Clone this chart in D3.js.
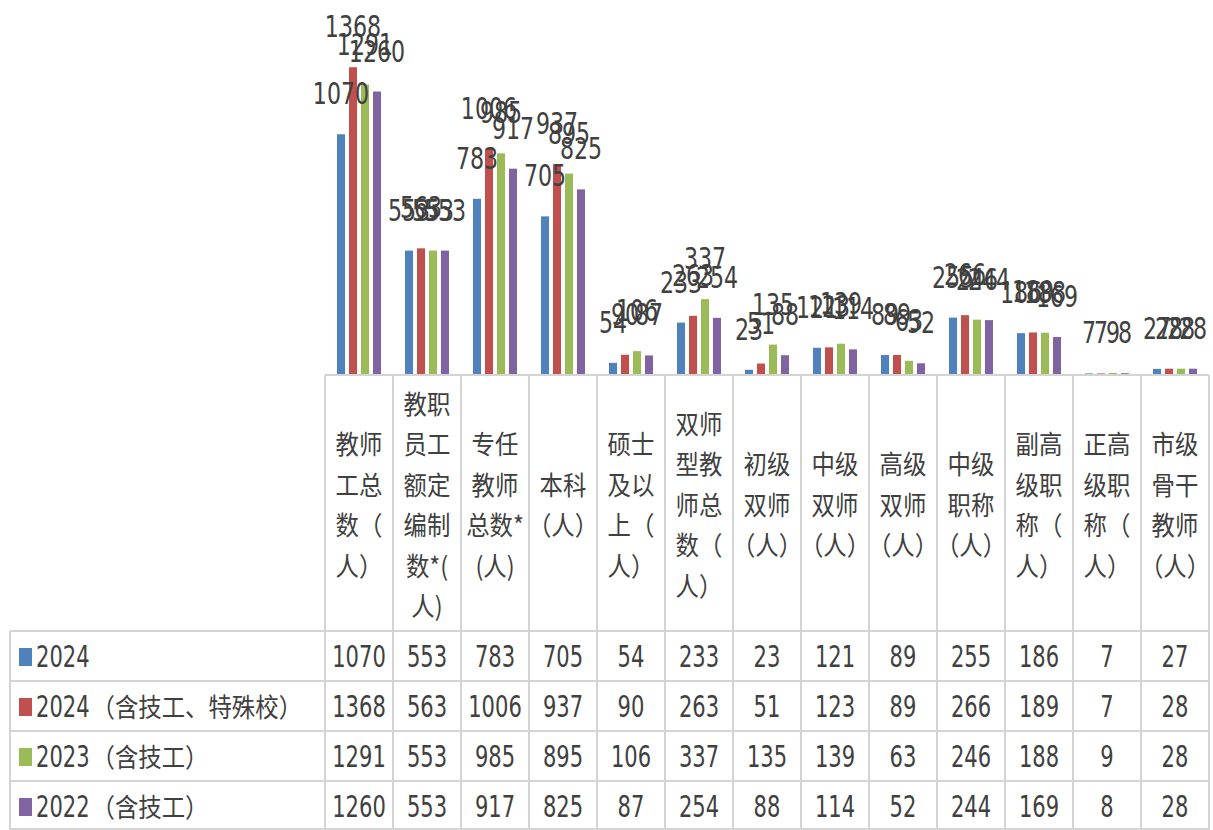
<!DOCTYPE html>
<html>
<head>
<meta charset="utf-8">
<script src="https://cdn.jsdelivr.net/npm/d3@7/dist/d3.min.js"></script>
<style>
  body { margin: 0; background: #fff; }
  svg { display: block; }
</style>
</head>
<body>
<script>
const categories = ['教师工总数（人）', '教职员工额定编制数*(人)', '专任教师总数*(人)', '本科（人）',
  '硕士及以上（人）', '双师型教师总数（人）', '初级双师（人）', '中级双师（人）', '高级双师（人）',
  '中级职称（人）', '副高级职称（人）', '正高级职称（人）', '市级骨干教师（人）']
const seriesNames = ['2024', '2024（含技工、特殊校）', '2023（含技工）', '2022（含技工）']
const v2024 = [1070, 553, 783, 705, 54, 233, 23, 121, 89, 255, 186, 7, 27]
const v2024b = [1368, 563, 1006, 937, 90, 263, 51, 123, 89, 266, 189, 7, 28]
const v2023 = [1291, 553, 985, 895, 106, 337, 135, 139, 63, 246, 188, 9, 28]
const v2022 = [1260, 553, 917, 825, 87, 254, 88, 114, 52, 244, 169, 8, 28]
const colors = ['#4f81bd', '#c0504d', '#9bbb59', '#8064a2']

const allValues = [v2024, v2024b, v2023, v2022]
const width = 1213
const height = 830
const textColor = '#404040'
const gridColor = '#d4d4d4'
const numFont = "'Liberation Sans Narrow', 'DejaVu Sans Condensed', sans-serif"
const cjkFont = "'Noto Sans CJK SC', sans-serif"
const sx = 0.9   // cjk text squeezed sideways like the reference
const nsx = 0.78 // digits are narrower still

const svg = d3.select('body').append('svg')
  .attr('width', width)
  .attr('height', height)

svg.append('rect').attr('width', width).attr('height', height).attr('fill', '#fff')

const x0 = d3.scaleBand().domain(categories).range([325, 1209]).padding(0)
const x1 = d3.scaleBand().domain(seriesNames).range([12, 56]).paddingInner(0.33)
const y = d3.scaleLinear().domain([0, 1400]).range([375, 60])
const headTop = 375, headBottom = 631
const rowY = d3.scaleBand().domain(seriesNames).range([headBottom, 831])

// bars
const groups = svg.append('g').selectAll('g')
  .data(categories)
  .join('g')
  .attr('transform', d => `translate(${x0(d)},0)`)

const barData = (c, i) => seriesNames.map((s, k) => ({ s, k, v: allValues[k][i] }))

groups.selectAll('rect')
  .data(barData)
  .join('rect')
  .attr('x', d => x1(d.s))
  .attr('width', x1.bandwidth())
  .attr('y', d => y(d.v))
  .attr('height', d => y(0) - y(d.v))
  .attr('fill', d => colors[d.k])

// data labels (they overlap in the original too)
groups.selectAll('text')
  .data(barData)
  .join('text')
  .attr('transform', d => `translate(${x1(d.s) + x1.bandwidth() / 2},${y(d.v) - 30}) scale(0.82,1)`)
  .attr('text-anchor', 'middle')
  .attr('font-family', numFont)
  .attr('font-size', 30)
  .attr('fill', textColor)
  .text(d => d.v)

// table grid
const grid = svg.append('g').attr('stroke', gridColor).attr('stroke-width', 2).attr('fill', 'none')
grid.append('line').attr('x1', 325).attr('x2', 1209).attr('y1', headTop).attr('y2', headTop)
const colEdges = categories.map(c => x0(c)).concat([x0.range()[1]])
colEdges.forEach(xv => {
  grid.append('line').attr('x1', xv).attr('x2', xv).attr('y1', headTop).attr('y2', 831)
})
grid.append('line').attr('x1', 10).attr('x2', 10).attr('y1', headBottom).attr('y2', 831)
seriesNames.forEach(s => {
  grid.append('line').attr('x1', 10).attr('x2', 1209).attr('y1', rowY(s)).attr('y2', rowY(s))
})
grid.append('line').attr('x1', 10).attr('x2', 1209).attr('y1', 829).attr('y2', 829)

// wrap header text roughly like the spreadsheet did
function charW(ch) {
  if (/[\x00-\x7f]/.test(ch)) return 0.5
  if (ch === '（' || ch === '）') return 0.75
  return 1
}
function wrap(str) {
  const lines = []
  let cur = '', w = 0
  for (const ch of str) {
    const cw = charW(ch)
    if (w + cw > 2.5 && cur) { lines.push(cur); cur = ''; w = 0 }
    cur += ch; w += cw
  }
  if (cur) lines.push(cur)
  return lines
}

const lineH = 40.5
const headMid = (headTop + headBottom) / 2 + 3
categories.forEach(c => {
  const lines = wrap(c)
  const cx = x0(c) + x0.bandwidth() / 2
  const t = svg.append('text')
    .attr('transform', `translate(${cx},0) scale(${sx},1)`)
    .attr('text-anchor', 'middle')
    .attr('font-family', cjkFont)
    .attr('font-size', 26)
    .attr('fill', textColor)
  lines.forEach((ln, i) => {
    t.append('tspan')
      .attr('x', 0)
      .attr('y', headMid + (i - (lines.length - 1) / 2) * lineH + 9)
      .text(ln)
  })
})

// table rows
seriesNames.forEach((s, k) => {
  const cy = rowY(s) + rowY.bandwidth() / 2
  svg.append('rect')
    .attr('x', 19).attr('y', cy - 8).attr('width', 13).attr('height', 18)
    .attr('fill', colors[k])
  const m = s.match(/^(\d+)(.*)$/)
  const num = svg.append('text')
    .attr('transform', `translate(36,${cy + 11}) scale(${nsx},1)`)
    .attr('font-family', numFont)
    .attr('font-size', 30)
    .attr('fill', textColor)
    .text(m[1])
  const numW = num.node().getComputedTextLength() * nsx
  if (m[2]) {
    svg.append('text')
      .attr('transform', `translate(${36 + numW + 2},${cy + 11}) scale(${sx},1)`)
      .attr('font-family', cjkFont)
      .attr('font-size', 26)
      .attr('fill', textColor)
      .text(m[2])
  }

  categories.forEach((c, i) => {
    svg.append('text')
      .attr('transform', `translate(${x0(c) + x0.bandwidth() / 2},${cy + 11}) scale(${nsx},1)`)
      .attr('text-anchor', 'middle')
      .attr('font-family', numFont)
      .attr('font-size', 30)
      .attr('fill', textColor)
      .text(allValues[k][i])
  })
})
</script>
</body>
</html>
